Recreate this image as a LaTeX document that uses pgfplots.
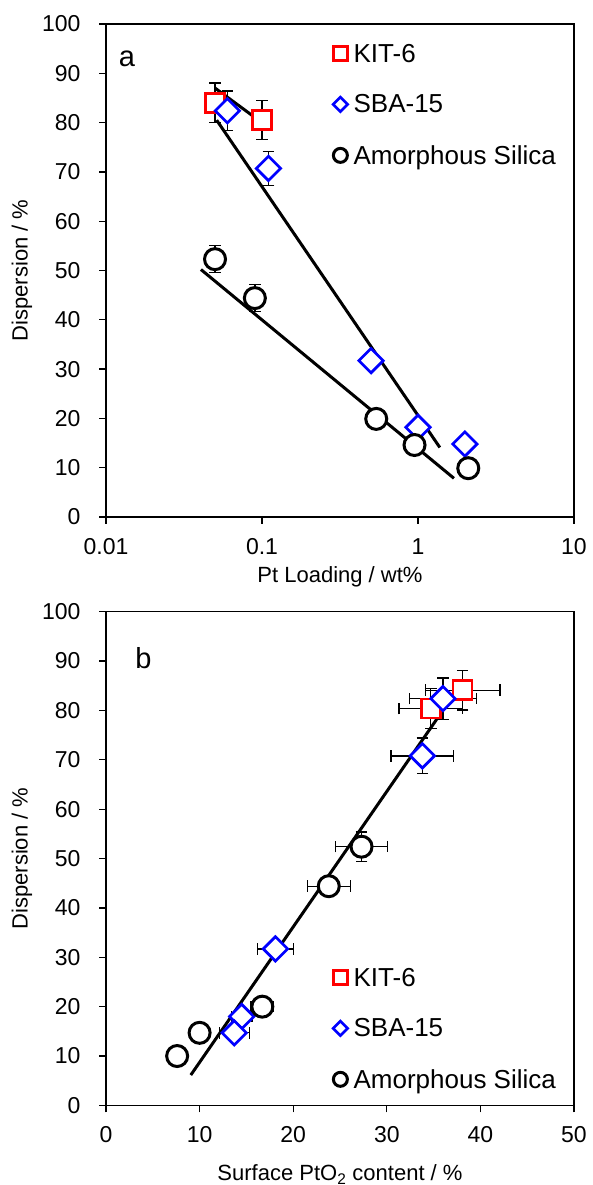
\documentclass[border=0pt]{standalone}
\usepackage{fontspec}
\setmainfont{Liberation Sans}
\usepackage{pgfplots}
\pgfplotsset{compat=1.18}

\pgfplotstableread{
x y ey
0.05 84 4
0.1 80.5 4
}\topkit
\pgfplotstableread{
x y ey
0.06 82.4 4
0.11 70.7 3.4
0.5 31.7 1.5
1.0 18.2 1
2.0 14.8 1
}\topsba
\pgfplotstableread{
x y ey
0.05 52.3 2.7
0.09 44.4 2.7
0.54 19.9 1
0.95 14.6 1
2.1 9.9 0.8
}\topamo
\pgfplotstableread{
x y ex ey
38.1 84.1 4.0 4
34.7 80.4 3.4 4
}\botkit
\pgfplotstableread{
x y ex ey
36.0 82.4 3.6 4.2
33.8 70.8 3.35 3.6
18.1 31.7 1.9 1.2
14.5 18.0 1.1 1
13.7 14.7 1.6 1
}\botsba
\pgfplotstableread{
x y ex ey
27.3 52.4 2.8 3
23.8 44.4 2.3 1.5
16.7 20.0 1.2 1
10.0 14.7 0.5 0.5
7.6 10.0 0.5 0.5
}\botamo

\pgfplotsset{
  common/.style={
    scale only axis, width=468bp,
    font=\fontsize{22bp}{26bp}\selectfont,
    tick label style={font=\fontsize{23bp}{27bp}\selectfont},
    yticklabel style={xshift=-15bp},
    xticklabel style={yshift=-11bp},
    /pgf/number format/assume math mode=true,
    tick align=outside, xtick pos=left, ytick pos=left,
    major tick length=7bp,
    every tick/.style={black, line width=1.3bp},
    axis line style={line width=1.3bp},
    ymin=0, ymax=100, ytick={0,10,...,100},
    clip=false,
    ylabel={Dispersion / \%},
    ylabel style={at={(axis description cs:-0.1795,0.5)}, anchor=center},
    legend cell align=left,
    legend style={draw=none, fill=none, inner sep=0pt, row sep=29bp, column sep=5bp,
      nodes={inner sep=1bp}, font=\fontsize{26bp}{30bp}\selectfont},
    legend image code/.code={\draw[##1] plot coordinates {(0bp,0bp)};},
  },
  kit/.style={only marks, mark=square*, mark size=9.5bp,
    mark options={draw=red, fill=white, line width=2.7bp},
    legend image post style={mark size=7bp}},
  sba/.style={only marks, mark=square*, mark size=8.6bp,
    mark options={draw=blue, fill=white, line width=2.7bp, rotate=45},
    legend image post style={mark size=5.1bp}},
  amo/.style={only marks, mark=*, mark size=10.5bp,
    mark options={draw=black, fill=white, line width=3bp},
    legend image post style={mark size=7bp}},
  eb/.style={error bars/.cd, #1,
    error bar style={black, line width=1.3bp},
    error mark options={black, line width=1.3bp, mark size=5.8bp, rotate=90}},
  trend/.style={black, line width=3bp, no marks, forget plot},
}

\begin{document}
\begin{tikzpicture}
\useasboundingbox (0,0) rectangle (593bp,1185bp);

% ---------- panel a ----------
\begin{axis}[common, at={(106bp,668bp)}, anchor=south west, height=493bp,
  xmode=log, xmin=0.01, xmax=10, xtick={0.01,0.1,1,10},
  xticklabels={0.01,0.1,1,10}, xminorticks=false,
  xlabel={Pt Loading / wt\%},
  xlabel style={at={(axis description cs:0.5,-0.1217)}, anchor=center},
  legend style={at={(axis description cs:0.485,0.962)}, anchor=north west},
]
\addplot[trend] coordinates {(0.05,87) (0.095,80.5)};
\addplot[trend] coordinates {(0.0512,80.5) (1.38,14.1)};
\addplot[trend] coordinates {(0.0406,50.2) (1.70,7.85)};
\addplot[kit, eb={y dir=both, y explicit}] table[x=x, y=y, y error=ey] {\topkit};
\addlegendentry{KIT-6}
\addplot[sba, eb={y dir=both, y explicit}] table[x=x, y=y, y error=ey] {\topsba};
\addlegendentry{SBA-15}
\addplot[amo, eb={y dir=both, y explicit}] table[x=x, y=y, y error=ey] {\topamo};
\addlegendentry{Amorphous Silica}
\node[font=\fontsize{29bp}{33bp}\selectfont] at (axis description cs:0.0449,0.929) {a};
\end{axis}

% ---------- panel b ----------
\begin{axis}[common, at={(106bp,79.6bp)}, anchor=south west, height=493.7bp,
  xmin=0, xmax=50, xtick={0,10,...,50},
  xlabel={Surface PtO\textsubscript{2} content / \%},
  xlabel style={at={(axis description cs:0.5,-0.1395)}, anchor=center, inner sep=0pt},
  legend style={at={(axis description cs:0.485,0.281)}, anchor=north west},
]
\addplot[trend] coordinates {(9.06,6.15) (35.4,78.4)};
\addplot[kit, eb={x dir=both, x explicit, y dir=both, y explicit}] table[x=x, y=y, x error=ex, y error=ey] {\botkit};
\addlegendentry{KIT-6}
\addplot[sba, eb={x dir=both, x explicit, y dir=both, y explicit}] table[x=x, y=y, x error=ex, y error=ey] {\botsba};
\addlegendentry{SBA-15}
\addplot[amo, eb={x dir=both, x explicit, y dir=both, y explicit}] table[x=x, y=y, x error=ex, y error=ey] {\botamo};
\addlegendentry{Amorphous Silica}
\node[font=\fontsize{29bp}{33bp}\selectfont] at (axis description cs:0.080,0.905) {b};
\end{axis}
\end{tikzpicture}
\end{document}
